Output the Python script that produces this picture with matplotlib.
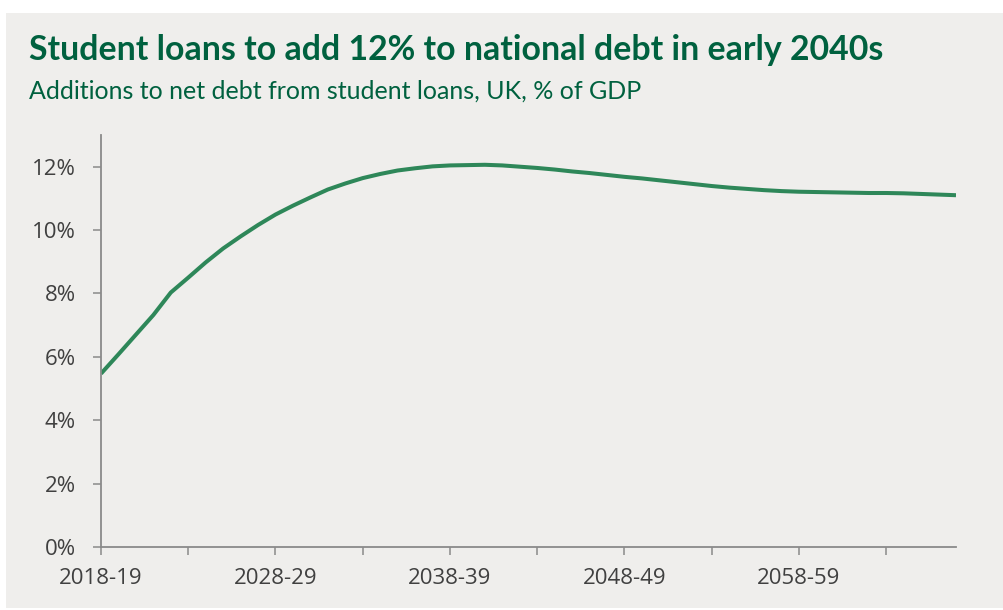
import matplotlib.pyplot as plt
from matplotlib.patches import Rectangle

# financial years, first year of each pair
years = list(range(2018, 2068))
debt_pct = [5.47, 6.08, 6.70, 7.32, 8.03, 8.50, 8.98, 9.42, 9.80, 10.16,
            10.49, 10.77, 11.03, 11.28, 11.47, 11.64, 11.77, 11.88, 11.95, 12.01,
            12.04, 12.05, 12.06, 12.04, 12.00, 11.96, 11.91, 11.85, 11.80, 11.74,
            11.68, 11.63, 11.57, 11.51, 11.45, 11.39, 11.34, 11.30, 11.26, 11.23,
            11.21, 11.20, 11.19, 11.18, 11.17, 11.17, 11.16, 11.14, 11.12, 11.10]

tick_years = list(range(2018, 2068, 5))
tick_labels = [f"{y}-{(y + 1) % 100:02d}" if i % 2 == 0 else "" for i, y in enumerate(tick_years)]
y_ticks = [0, 2, 4, 6, 8, 10, 12]

title = "Student loans to add 12% to national debt in early 2040s"
subtitle = "Additions to net debt from student loans, UK, % of GDP"

bg = "#efeeec"
green_text = "#00613f"
line_green = "#2e8759"
axis_grey = "#8a8a8a"
label_grey = "#404040"

W, H = 1004, 610
fig = plt.figure(figsize=(W / 100, H / 100), dpi=100)
fig.patches.append(Rectangle((6 / W, 2 / H), 1 - 6 / W, (H - 15) / H,
                             transform=fig.transFigure, facecolor=bg,
                             edgecolor="none", zorder=-10))

ax = fig.add_axes([101 / W, 63 / H, (956 - 101) / W, (547 - 135) / H])
ax.set_facecolor("none")
ax.plot(years, debt_pct, color=line_green, lw=2.9, solid_capstyle="butt")

ax.set_xlim(2018, 2067)
ax.set_ylim(0, 13)
ax.set_xticks(tick_years)
ax.set_xticklabels(tick_labels)
ax.set_yticks(y_ticks)
ax.set_yticklabels([f"{v}%" for v in y_ticks])

for s in ["top", "right"]:
    ax.spines[s].set_visible(False)
for s in ["left", "bottom"]:
    ax.spines[s].set_color(axis_grey)
    ax.spines[s].set_linewidth(1.3)

ax.tick_params(axis="both", colors=axis_grey, labelcolor=label_grey,
               labelsize=16, length=6, width=1.1)
ax.tick_params(axis="y", pad=12)
ax.tick_params(axis="x", pad=9)
for lab in ax.get_xticklabels() + ax.get_yticklabels():
    lab.set_fontfamily("Open Sans")

fig.text(29 / W, 1 - 60 / H, title, fontsize=24.4, fontweight="bold",
         family="Lato", color=green_text, va="baseline", ha="left")
fig.text(29 / W, 1 - 99 / H, subtitle, fontsize=18, family="Lato",
         color=green_text, va="baseline", ha="left")

fig.savefig("out.png", dpi=100)
